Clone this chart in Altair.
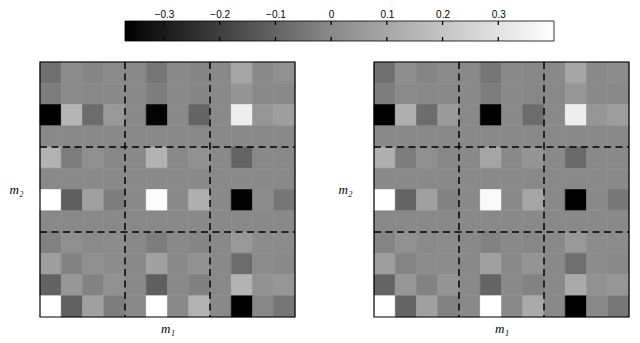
import altair as alt
import pandas as pd

# colour bar
cbar_lo, cbar_hi = -0.37, 0.40
cbar_ticks = [-0.3, -0.2, -0.1, 0.0, 0.1, 0.2, 0.3]
cbar_domain = [-0.37, 0.0, 0.40]
cbar_colors = ["#000000", "#898989", "#ffffff"]

# block boundaries (3x3 blocks of 4x4 cells)
block_edges = [4, 8]
grid_extent = [0, 12]

# cell values, row 0 = top, col 0 = left
left_rows = [
    [-0.068, 0.010, -0.011, 0.003, 0, -0.051, 0, -0.011, 0, 0.095, 0, 0.027],
    [-0.032, 0.003, -0.003, 0.000, 0, -0.032, 0, -0.008, 0, 0.037, 0, 0.000],
    [-0.370, 0.146, -0.078, 0.051, 0, -0.360, 0, -0.100, 0, 0.342, 0.044, 0.071],
    [0, 0, 0, 0, 0, 0, 0, 0, 0, 0, 0, 0],
    [0.139, -0.032, 0.020, -0.005, 0, 0.139, 0, 0.027, 0, -0.100, 0, 0.000],
    [0, 0, 0, 0, 0, 0, 0, 0, 0, 0, 0, 0],
    [0.400, -0.113, 0.078, -0.032, 0, 0.390, 0, 0.129, 0, -0.365, 0.010, -0.051],
    [0, 0, 0, 0, 0, 0, 0, 0, 0, 0, 0, 0],
    [-0.019, 0.020, 0.003, 0.010, 0, -0.032, 0, -0.011, 0, 0.051, 0.010, 0.010],
    [0.071, -0.019, 0.020, 0.010, 0, 0.078, 0, 0.030, 0, -0.078, 0.010, 0.000],
    [-0.105, 0.044, -0.019, 0.027, 0, -0.113, 0, -0.024, 0, 0.139, 0.027, 0.044],
    [0.400, -0.108, 0.078, -0.032, 0, 0.400, 0, 0.139, 0, -0.370, -0.005, -0.051],
]

right_rows = [
    [-0.068, 0.017, -0.011, 0.003, 0, -0.051, 0, -0.005, 0, 0.095, 0, 0.010],
    [-0.032, 0.003, -0.003, 0.000, 0, -0.032, 0, -0.005, 0, 0.044, 0, 0.000],
    [-0.370, 0.129, -0.078, 0.061, 0, -0.370, 0, -0.078, 0, 0.342, 0.044, 0.071],
    [0, 0, 0, 0, 0, 0, 0, 0, 0, 0, 0, 0],
    [0.129, -0.032, 0.020, -0.005, 0, 0.095, 0, 0.037, 0, -0.086, 0, 0.000],
    [0, 0, 0, 0, 0, 0, 0, 0, 0, 0, 0, 0],
    [0.400, -0.100, 0.078, -0.019, 0, 0.383, 0, 0.095, 0, -0.370, 0, -0.046],
    [0, 0, 0, 0, 0, 0, 0, 0, 0, 0, 0, 0],
    [-0.013, 0.027, 0.003, 0.010, 0, -0.019, 0, -0.005, 0, 0.051, 0.010, 0.010],
    [0.071, -0.013, 0.010, 0.010, 0, 0.078, 0, 0.037, 0, -0.073, 0.010, 0.000],
    [-0.100, 0.044, -0.019, 0.037, 0, -0.100, 0, -0.019, 0, 0.112, 0.027, 0.044],
    [0.400, -0.100, 0.078, -0.019, 0, 0.400, 0, 0.112, 0, -0.370, 0, -0.046],
]


def to_long(rows):
    recs = []
    for r, row in enumerate(rows):
        for c, v in enumerate(row):
            recs.append({"r0": r, "r1": r + 1, "c0": c, "c1": c + 1, "v": v})
    return pd.DataFrame(recs)


cscale = alt.Scale(domain=cbar_domain, range=cbar_colors, interpolate="rgb", clamp=True)

SERIF = "Liberation Serif"
DASH = [7, 4.5]
PANEL = 255


def panel(rows, ypad):
    df = to_long(rows)
    xs = alt.Scale(domain=grid_extent, nice=False, zero=False)
    ys = alt.Scale(domain=grid_extent, nice=False, zero=False, reverse=True)
    xaxis = alt.Axis(title="m₁", labels=False, ticks=False, tickSize=0, domain=False,
                     grid=False, titleFont=SERIF, titleFontStyle="italic",
                     titleFontWeight="normal", titleFontSize=13, titlePadding=5,
                     titleColor="black")
    yaxis = alt.Axis(title="m₂", labels=False, ticks=False, tickSize=0, domain=False,
                     grid=False, titleFont=SERIF, titleFontStyle="italic",
                     titleFontWeight="normal", titleFontSize=13, titleAngle=0,
                     titleAlign="right", titleBaseline="middle", titlePadding=ypad,
                     titleColor="black")
    cells = alt.Chart(df).mark_rect(strokeWidth=0.6).encode(
        x=alt.X("c0:Q", scale=xs, axis=xaxis),
        x2="c1",
        y=alt.Y("r0:Q", scale=ys, axis=yaxis),
        y2="r1",
        fill=alt.Fill("v:Q", scale=cscale, legend=None),
        stroke=alt.Stroke("v:Q", scale=cscale, legend=None),
    )
    edges = pd.DataFrame({"e": block_edges, "lo": [grid_extent[0]] * 2,
                          "hi": [grid_extent[1]] * 2})
    vr = alt.Chart(edges).mark_rule(color="black", strokeWidth=1.5, strokeDash=DASH).encode(
        x=alt.X("e:Q", scale=xs, axis=xaxis),
        y=alt.Y("lo:Q", scale=ys, axis=yaxis), y2="hi")
    hr = alt.Chart(edges).mark_rule(color="black", strokeWidth=1.5, strokeDash=DASH).encode(
        y=alt.Y("e:Q", scale=ys, axis=yaxis),
        x=alt.X("lo:Q", scale=xs, axis=xaxis), x2="hi")
    frame_df = pd.DataFrame({"lo": [grid_extent[0]], "hi": [grid_extent[1]]})
    frame = alt.Chart(frame_df).mark_rect(fillOpacity=0, stroke="black", strokeWidth=1.2).encode(
        x=alt.X("lo:Q", scale=xs, axis=xaxis), x2="hi",
        y=alt.Y("lo:Q", scale=ys, axis=yaxis), y2="hi")
    return alt.layer(cells, vr, hr, frame, width=PANEL, height=PANEL)


left = panel(left_rows, 17)
right = panel(right_rows, 22)

# colour bar chart (its plot area starts where the left panel's does)
cb_df = pd.DataFrame({"lo": [cbar_lo], "hi": [cbar_hi]})
tick_df = pd.DataFrame({"t": cbar_ticks})
px_per_unit = 429 / (cbar_hi - cbar_lo)
cb_width = 520
cb_height = 20
d0 = cbar_lo - 85 / px_per_unit
d1 = d0 + cb_width / px_per_unit
cbx = alt.Scale(domain=[d0, d1], nice=False, zero=False)
offsets = [(d - cbar_lo) / (cbar_hi - cbar_lo) for d in cbar_domain]
grad = alt.Gradient(
    gradient="linear",
    stops=[alt.GradientStop(color=c, offset=o) for c, o in zip(cbar_colors, offsets)],
    x1=0, x2=1, y1=0, y2=0,
)
top_axis = alt.Axis(orient="top", values=cbar_ticks, format=".1~f", ticks=False, tickSize=0,
                    domain=False, grid=False, labelPadding=2, labelFontSize=10,
                    labelFont="Liberation Sans", labelColor="black", labelFlush=False,
                    title=None)
cb_rect = alt.Chart(cb_df).mark_rect(fill=grad, stroke="black", strokeWidth=0.8).encode(
    x=alt.X("lo:Q", scale=cbx, axis=top_axis), x2="hi",
    y=alt.value(0), y2=alt.value(cb_height))
cb_tick_top = alt.Chart(tick_df).mark_rule(color="black", strokeWidth=1.3).encode(
    x=alt.X("t:Q", scale=cbx, axis=top_axis),
    y=alt.value(0), y2=alt.value(4))
cb_tick_bot = alt.Chart(tick_df).mark_rule(color="black", strokeWidth=1.3).encode(
    x=alt.X("t:Q", scale=cbx, axis=top_axis),
    y=alt.value(cb_height - 4), y2=alt.value(cb_height))
cbar = alt.layer(cb_rect, cb_tick_top, cb_tick_bot, width=cb_width, height=cb_height)

chart = alt.vconcat(
    cbar,
    alt.hconcat(left, right, spacing=40),
    spacing=17,
).properties(padding=0).configure_view(stroke="transparent")

chart.save("out.html", embed_options={"renderer": "svg", "actions": False})
